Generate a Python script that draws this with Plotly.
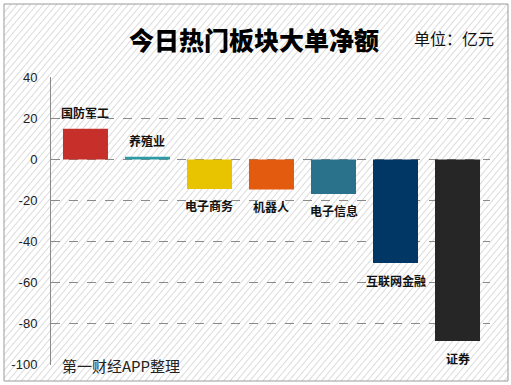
import base64
import plotly.graph_objects as go

categories = ["国防军工", "养殖业", "电子商务", "机器人", "电子信息", "互联网金融", "证券"]
values = [15.0, 1.3, -14.4, -14.7, -16.8, -50.6, -88.7]
colors = ["#C62F2A", "#2E9AA6", "#E8C300", "#E35B0E", "#2A718B", "#003764", "#262626"]
yticks = [40, 20, 0, -20, -40, -60, -80, -100]

W, H = 511, 385
ML, MR, MT, MB = 51, 21, 77, 20
PW, PH = W - ML - MR, H - MT - MB

# hatched background image (decoration)
bx0, by0, bx1, by1 = 4, 4, 508, 381
bw, bh = bx1 - bx0, by1 - by0
svg = f'''<svg xmlns="http://www.w3.org/2000/svg" width="{bw}" height="{bh}" viewBox="0 0 {bw} {bh}">
<defs><pattern id="p" width="5" height="5" patternUnits="userSpaceOnUse" patternTransform="rotate(40)">
<rect width="5" height="5" fill="#ffffff"/>
<line x1="0" y1="0" x2="0" y2="5" stroke="#cccccc" stroke-width="1.4"/></pattern></defs>
<rect width="{bw}" height="{bh}" fill="url(#p)"/></svg>'''
src = "data:image/svg+xml;base64," + base64.b64encode(svg.encode()).decode()

def px(x):
    return (x - ML) / PW

def py(y):
    return (H - MB - y) / PH

fig = go.Figure()
fig.add_trace(go.Bar(
    x=categories, y=values, marker_color=colors, width=0.726,
    marker_line_width=0, hoverinfo="skip",
))

for c, v in zip(categories, values):
    fig.add_annotation(
        x=c, y=v, text=f"<b>{c}</b>", showarrow=False,
        yanchor="middle", yshift=16 if v >= 0 else -17,
        font=dict(family="Noto Sans CJK SC", size=12, color="#111111"),
    )

fig.add_layout_image(
    source=src, xref="paper", yref="paper",
    x=px(bx0), y=py(by0), sizex=bw / PW, sizey=bh / PH,
    xanchor="left", yanchor="top", sizing="stretch", layer="below",
)
fig.add_shape(
    type="rect", xref="paper", yref="paper",
    x0=px(bx0), x1=px(bx1), y0=py(by1), y1=py(by0),
    line=dict(color="#9a9a9a", width=1), fillcolor="rgba(0,0,0,0)", layer="above",
)

fig.add_annotation(
    xref="paper", yref="paper", x=px(254), y=py(39), text="今日热门板块大单净额",
    showarrow=False, xanchor="center", yanchor="middle",
    font=dict(family="Noto Sans CJK SC", size=25, color="#000000", weight=900),
)
fig.add_annotation(
    xref="paper", yref="paper", x=px(412), y=py(38), text="单位：亿元",
    showarrow=False, xanchor="left", yanchor="middle",
    font=dict(family="Noto Sans CJK SC", size=16, color="#111111"),
)
fig.add_annotation(
    xref="paper", yref="paper", x=px(60), y=py(365), text="第一财经APP整理",
    showarrow=False, xanchor="left", yanchor="middle",
    font=dict(family="Noto Sans CJK SC", size=15, color="#222222"),
)

fig.update_layout(
    width=W, height=H,
    margin=dict(l=ML, r=MR, t=MT, b=MB),
    paper_bgcolor="#ffffff", plot_bgcolor="rgba(0,0,0,0)",
    showlegend=False,
    xaxis=dict(range=[-0.556, 6.524], showticklabels=False, showgrid=False,
               zeroline=False, showline=False, fixedrange=True),
    yaxis=dict(range=[-100.4, 40.3], tickvals=yticks, ticktext=[str(t) for t in yticks],
               showgrid=True, gridcolor="#8a8a8a", griddash="dash", gridwidth=1,
               zeroline=False, showline=True, linecolor="#8a8a8a", linewidth=1,
               ticks="", ticklabelstandoff=10,
               tickfont=dict(family="Liberation Sans", size=13, color="#222222")),
)

fig.write_html("out.html", config={"displayModeBar": False},
               post_script="document.body.style.margin='0';document.body.style.overflow='hidden';")
